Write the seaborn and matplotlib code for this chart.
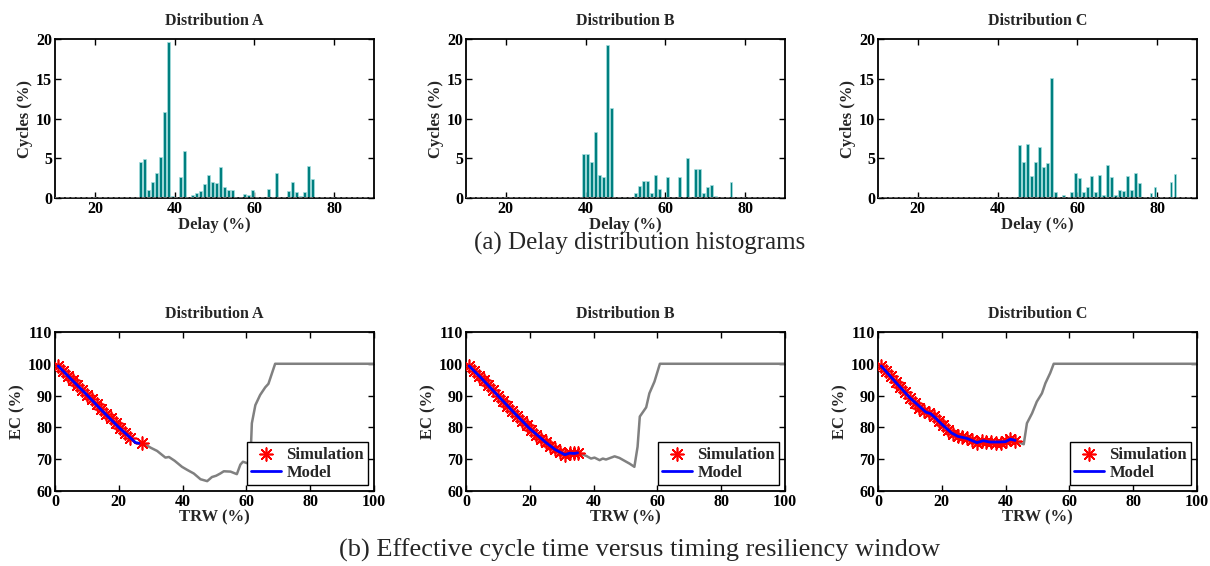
import matplotlib
matplotlib.use("Agg")
import numpy as np
import pandas as pd
from matplotlib import pyplot as plt
import seaborn as sns

# ---- delay histograms (delay %, share of cycles %) ----
delay_a = [31.5, 32.5, 33.5, 34.5, 35.5, 36.5, 37.5, 38.5, 39.5, 40.5, 41.5, 42.5,
           43.5, 44.5, 45.5, 46.5, 47.5, 48.5, 49.5, 50.5, 51.5, 52.5, 53.5, 54.5,
           56.5, 57.5, 58.5, 59.5, 60.5, 62.5, 63.5, 64.5, 65.5, 67.5, 68.5, 69.5,
           70.5, 71.5, 72.5, 73.5, 74.5, 75.5]
cycles_a = [4.6, 4.9, 1.0, 2.0, 3.1, 5.2, 10.8, 19.6, 0.3, 0.1, 2.6, 5.9,
            0.15, 0.45, 0.7, 0.95, 1.75, 2.9, 2.05, 1.9, 3.9, 1.4, 1.0, 1.0,
            0.1, 0.55, 0.4, 1.05, 0.15, 0.1, 1.1, 0.1, 3.15, 0.1, 0.9, 2.05,
            0.8, 0.3, 0.75, 4.0, 2.35, 0.2]

delay_b = [39.5, 40.5, 41.5, 42.5, 43.5, 44.5, 45.5, 46.5, 48.5, 51.5, 52.5, 53.5,
           54.5, 55.5, 56.5, 57.5, 58.5, 59.5, 60.5, 63.5, 65.5, 67.5, 68.5, 69.5,
           70.5, 71.5, 72.5, 74.5, 75.5, 76.5, 77.5]
cycles_b = [5.6, 5.5, 4.55, 8.25, 2.95, 2.7, 19.3, 11.3, 0.2, 0.1, 0.6, 1.55,
            2.1, 2.2, 0.6, 2.85, 1.1, 0.2, 2.6, 2.6, 5.1, 3.6, 3.7, 0.6,
            1.45, 1.7, 0.3, 0.1, 0.15, 2.0, 0.1]

delay_c = [45.5, 46.5, 47.5, 48.5, 49.5, 50.5, 51.5, 52.5, 53.5, 54.5, 56.5, 58.5,
           59.5, 60.5, 61.5, 62.5, 63.5, 64.5, 65.5, 66.5, 67.5, 68.5, 69.5, 70.5,
           71.5, 72.5, 73.5, 74.5, 75.5, 78.5, 79.5, 80.5, 82.5, 83.5, 84.5]
cycles_c = [6.7, 4.5, 6.8, 2.75, 4.5, 6.4, 3.85, 4.4, 15.1, 0.82, 0.45, 0.82,
            3.15, 2.5, 0.8, 1.42, 2.77, 0.8, 2.92, 0.38, 4.1, 2.68, 0.45, 0.96,
            0.84, 2.73, 0.96, 3.1, 1.84, 0.7, 1.38, 0.15, 0.15, 2.05, 3.06]

# ---- effective cycle time vs TRW ----
sim_x_a = [1, 2.5, 4, 5.5, 7, 8.5, 10, 11.5, 13, 14.5, 16, 17.5, 19, 20.5, 22, 23.5, 27.3]
sim_y_a = [99.3, 97.8, 96.3, 94.8, 93.3, 91.8, 90.3, 88.8, 87.3, 85.8, 84.3, 82.8,
           81.3, 79.8, 78.3, 76.8, 75.2]
model_x_a = [1, 5, 10, 15, 20, 24.2, 25.2, 26.3]
model_y_a = [99.3, 95.2, 90.2, 85.0, 80.0, 76.2, 75.2, 75.0]
tail_x_a = [27.8, 30, 32, 34.6, 35.7, 37.5, 39.8, 41.5, 43.5, 45.6, 47.7,
            49.2, 50.5, 51.8, 52.9, 55, 57, 58.1, 58.9, 60.7, 61.2, 61.7, 62.8,
            64.3, 65.9, 66.9, 69, 100]
tail_y_a = [74.9, 73.6, 72.6, 70.5, 70.7, 69.5, 67.6, 66.6, 65.5, 63.7,
            63.1, 64.4, 64.8, 65.5, 66.2, 66.1, 65.3, 68.3, 69.2, 68.6, 68.4, 81.3,
            87.0, 90.2, 92.6, 93.7, 100, 100]

sim_x_b = [1, 2.5, 4, 5.5, 7, 8.5, 10, 11.5, 13, 14.5, 16, 17.5, 19, 20.5, 22, 23.5,
           25, 26.5, 28, 29.5, 31, 32.5, 34, 35.2]
sim_y_b = [99.3, 97.8, 96.3, 94.8, 93.2, 91.6, 90.0, 88.4, 86.8, 85.3, 83.7, 82.1,
           80.6, 79.1, 77.7, 76.5, 75.3, 74.2, 73.2, 72.3, 71.4, 71.9, 72.0, 71.8]
model_x_b = [1, 5, 10, 15, 20, 25, 28, 31, 32.5, 34, 35]
model_y_b = [99.3, 95.3, 90.0, 84.7, 79.6, 75.3, 73.0, 71.4, 71.9, 71.8, 72.0]
tail_x_b = [37.7, 39.2, 40.3, 41.9, 42.9, 43.9, 46.6, 48.1, 51.3, 52.8, 53.8,
            54.5, 56.5, 57.5, 59.1, 60.8, 100]
tail_y_b = [71.05, 70.2, 70.5, 69.7, 70.2, 69.9, 70.9, 70.4, 68.6, 67.6,
            73.9, 83.4, 86.3, 90.7, 94.4, 100, 100]

sim_x_c = [1, 2.5, 4, 5.5, 7, 8.5, 10, 11.5, 13, 14.5, 16, 17.5, 19, 20.5, 22, 23.5,
           25, 26.5, 28, 29.5, 31, 32.5, 34, 35.5, 37, 38.5, 40, 41.5, 43]
sim_y_c = [99.3, 97.7, 96.0, 94.4, 92.8, 91.0, 89.3, 87.7, 86.1, 85.0, 84.5, 83.5,
           82.0, 80.6, 79.3, 78.0, 77.4, 77.0, 76.6, 76.0, 75.2, 75.6, 75.4, 75.3,
           75.0, 75.2, 75.6, 76.4, 75.6]
model_x_c = [1, 5, 10, 15, 16.5, 18, 20, 23, 25, 28, 31, 33, 35, 38, 40, 41.5, 43]
model_y_c = [99.3, 94.8, 89.3, 84.8, 84.3, 83.0, 81.0, 78.3, 77.2, 76.5, 75.2, 75.8,
             75.4, 75.4, 75.5, 76.3, 75.9]
tail_x_c = [43.6, 45.7, 46.7, 48.3, 49.8, 51.4, 52.5, 54, 55.1, 100]
tail_y_c = [75.5, 74.7, 81.3, 84.4, 88.1, 90.7, 93.9, 97.1, 100, 100]

titles = ["Distribution A", "Distribution B", "Distribution C"]

sns.set_style('ticks')
plt.rcParams['font.family'] = ['Liberation Serif', 'DejaVu Serif']
plt.rcParams['font.weight'] = 'bold'
plt.rcParams['axes.labelweight'] = 'bold'
plt.rcParams['axes.titleweight'] = 'bold'

fig = plt.figure(figsize=(12.1, 5.66), dpi=100)

lefts = [0.0455, 0.3851, 0.7256]
width = 0.2636
height = 0.281


def style_axes(ax):
    ax.tick_params(direction='in', top=True, right=True, length=4, width=1,
                   labelsize=11.5, pad=2, colors='black')
    for s in ax.spines.values():
        s.set_linewidth(1.3)
        s.set_color('black')
    for lab in ax.get_xticklabels() + ax.get_yticklabels():
        lab.set_fontweight('bold')


hist_data = [(delay_a, cycles_a), (delay_b, cycles_b), (delay_c, cycles_c)]
for i, (d, c) in enumerate(hist_data):
    ax = fig.add_axes([lefts[i], 0.650, width, height])
    sns.histplot(x=d, weights=c, binwidth=1, binrange=(10, 90), shrink=0.7,
                 color='#008080', edgecolor='#a8e0e0', linewidth=0.5, alpha=1,
                 ax=ax)
    ax.axhline(0, color='0.45', lw=1.3, ls=(0, (2, 1)), zorder=3)
    ax.set_xlim(10, 90)
    ax.set_ylim(0, 20)
    ax.set_xticks([20, 40, 60, 80])
    ax.set_yticks([0, 5, 10, 15, 20])
    ax.set_title(titles[i], fontsize=11.5, pad=10)
    ax.set_xlabel('Delay (%)', fontsize=12, labelpad=0)
    ax.set_ylabel('Cycles (%)', fontsize=12, labelpad=2)
    style_axes(ax)

line_data = [(sim_x_a, sim_y_a, model_x_a, model_y_a, tail_x_a, tail_y_a),
             (sim_x_b, sim_y_b, model_x_b, model_y_b, tail_x_b, tail_y_b),
             (sim_x_c, sim_y_c, model_x_c, model_y_c, tail_x_c, tail_y_c)]
for i, (sx, sy, mx, my, tx, ty) in enumerate(line_data):
    ax = fig.add_axes([lefts[i], 0.1325, width, height])
    # grey curve: full measured EC over the whole TRW range
    sns.lineplot(x=mx + tx, y=my + ty, color='#808080', linewidth=1.8, ax=ax,
                 legend=False, estimator=None, sort=False)
    sns.scatterplot(x=sx, y=sy, marker=(8, 2, 0), s=85, color='red',
                    edgecolor='red', linewidth=1.2, label='Simulation', ax=ax,
                    zorder=3)
    sns.lineplot(x=mx, y=my, color='blue', linewidth=2, label='Model', ax=ax,
                 estimator=None, sort=False, zorder=4)
    ax.set_xlim(0, 100)
    ax.set_ylim(60, 110)
    ax.set_xticks([0, 20, 40, 60, 80, 100])
    ax.set_yticks([60, 70, 80, 90, 100, 110])
    ax.set_title(titles[i], fontsize=11.5, pad=10)
    ax.set_xlabel('TRW (%)', fontsize=12, labelpad=0)
    ax.set_ylabel('EC (%)', fontsize=12, labelpad=2)
    leg = ax.legend(loc='lower right', fontsize=12, frameon=True, fancybox=False,
                    edgecolor='black', framealpha=1, labelspacing=0.15,
                    borderpad=0.25, handlelength=1.8, handletextpad=0.3,
                    borderaxespad=0.35)
    leg.get_frame().set_linewidth(1.0)
    for t in leg.get_texts():
        t.set_fontweight('bold')
    style_axes(ax)

fig.text(640 / 1210, 1 - 243 / 566, '(a) Delay distribution histograms',
         ha='center', va='center', fontsize=18, fontweight='normal')
fig.text(640 / 1210, 1 - 550 / 566, '(b) Effective cycle time versus timing resiliency window',
         ha='center', va='center', fontsize=19, fontweight='normal')

plt.savefig('out.png', dpi=100)
